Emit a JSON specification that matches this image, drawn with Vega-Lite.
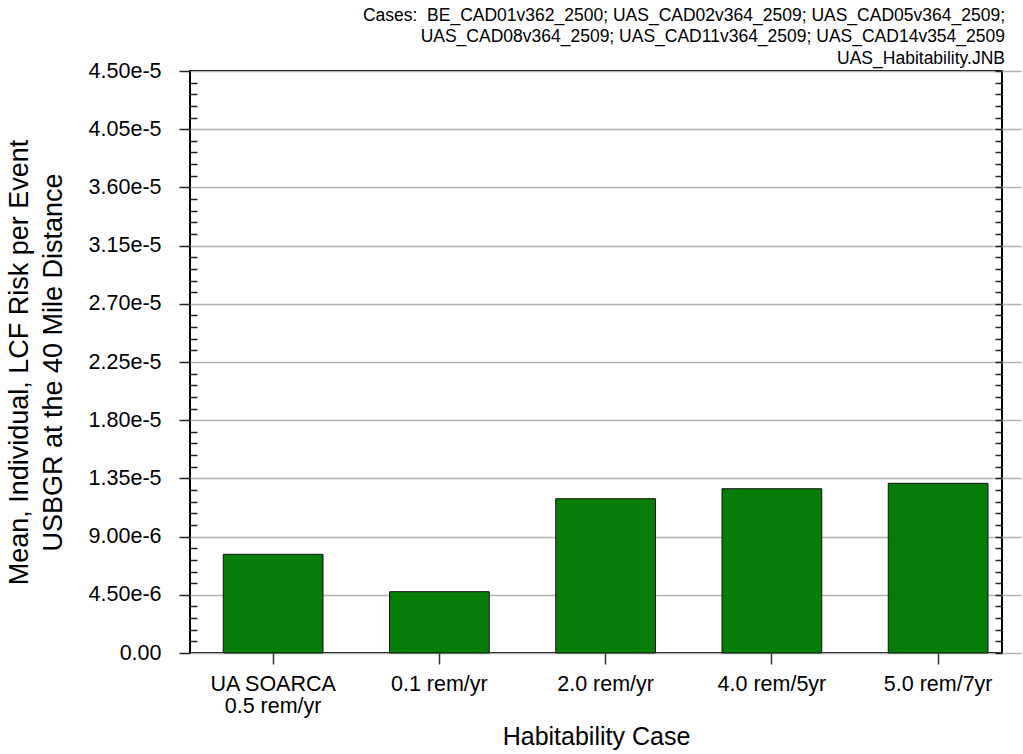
{
  "$schema": "https://vega.github.io/schema/vega-lite/v6.json",
  "autosize": {"type": "none"},
  "padding": {"left": 190, "top": 71, "right": 21, "bottom": 100},
  "width": 812,
  "height": 582,
  "background": "white",
  "config": {
    "view": {"stroke": "black", "strokeWidth": 2},
    "font": "Liberation Sans"
  },
  "title": {
    "text": ["Cases:\u00a0 BE_CAD01v362_2500; UAS_CAD02v364_2509; UAS_CAD05v364_2509;", "UAS_CAD08v364_2509; UAS_CAD11v364_2509; UAS_CAD14v354_2509", "UAS_Habitability.JNB"],
    "anchor": "end",
    "frame": "group",
    "font": "Liberation Sans",
    "fontSize": 17.5,
    "fontWeight": "normal",
    "lineHeight": 21.5,
    "color": "black",
    "offset": -7,
    "dx": 3
  },
  "data": {
    "values": [
      {"case": "UA SOARCA\n0.5 rem/yr", "risk": 7.63e-6},
      {"case": "0.1 rem/yr", "risk": 4.74e-6},
      {"case": "2.0 rem/yr", "risk": 1.193e-5},
      {"case": "4.0 rem/5yr", "risk": 1.270e-5},
      {"case": "5.0 rem/7yr", "risk": 1.312e-5}
    ]
  },
  "encoding": {
    "x": {
      "field": "case",
      "type": "nominal",
      "sort": null,
      "scale": {"range": [0, 831.25], "paddingInner": 0.4, "paddingOuter": 0.2},
      "axis": {
        "title": "Habitability Case",
        "titleFontSize": 25,
        "titleFontWeight": "normal",
        "titleColor": "black",
        "titlePadding": 8,
        "titleX": 406,
        "labelAngle": 0,
        "labelExpr": "split(datum.label, '\\n')",
        "labelFontSize": 21.5,
        "labelLineHeight": 22,
        "labelColor": "black",
        "labelPadding": 9,
        "domain": false,
        "ticks": true,
        "tickSize": 11,
        "tickColor": "#333333",
        "tickWidth": 1.5
      }
    }
  },
  "layer": [
    {
      "mark": {"type": "bar", "color": "#067d06", "stroke": "#111111", "strokeWidth": 1},
      "encoding": {
        "y": {
          "field": "risk",
          "type": "quantitative",
          "scale": {"domain": [0, 4.5e-5], "nice": false, "zero": true},
          "axis": {
            "orient": "left",
            "values": [0, 9e-7, 1.8e-6, 2.7e-6, 3.6e-6, 4.5e-6, 5.4e-6, 6.3e-6, 7.2e-6, 8.1e-6, 9e-6, 9.9e-6, 1.08e-5, 1.17e-5, 1.26e-5, 1.35e-5, 1.44e-5, 1.53e-5, 1.62e-5, 1.71e-5, 1.8e-5, 1.89e-5, 1.98e-5, 2.07e-5, 2.16e-5, 2.25e-5, 2.34e-5, 2.43e-5, 2.52e-5, 2.61e-5, 2.7e-5, 2.79e-5, 2.88e-5, 2.97e-5, 3.06e-5, 3.15e-5, 3.24e-5, 3.33e-5, 3.42e-5, 3.51e-5, 3.6e-5, 3.69e-5, 3.78e-5, 3.87e-5, 3.96e-5, 4.05e-5, 4.14e-5, 4.23e-5, 4.32e-5, 4.41e-5, 4.5e-5],
            "labelExpr": "abs(datum.value / 4.5e-6 - round(datum.value / 4.5e-6)) < 0.01 ? (datum.value < 1e-9 ? '0.00' : format(datum.value, '.2e')) : ''",
            "tickSize": {"condition": {"test": "abs(datum.value / 4.5e-6 - round(datum.value / 4.5e-6)) < 0.01", "value": 11}, "value": -7},
            "gridOpacity": {"condition": {"test": "abs(datum.value / 4.5e-6 - round(datum.value / 4.5e-6)) < 0.01", "value": 1}, "value": 0},
            "grid": true,
            "gridColor": "#b4b4b4",
            "gridWidth": 1.5,
            "domain": false,
            "tickColor": "#222222",
            "tickWidth": 1.5,
            "labelFontSize": 21.5,
            "labelColor": "black",
            "labelPadding": 18,
            "labelFlush": false,
            "labelOverlap": false,
            "title": ["Mean, Individual, LCF Risk per Event", "USBGR at the 40 Mile Distance"],
            "titleFontSize": 27,
            "titleFontWeight": "normal",
            "titleColor": "black",
            "titleLineHeight": 34,
            "titlePadding": 21
          }
        }
      }
    },
    {
      "mark": {"type": "bar", "opacity": 0},
      "encoding": {
        "y": {
          "field": "risk",
          "type": "quantitative",
          "axis": {
            "orient": "right",
            "values": [0, 9e-7, 1.8e-6, 2.7e-6, 3.6e-6, 4.5e-6, 5.4e-6, 6.3e-6, 7.2e-6, 8.1e-6, 9e-6, 9.9e-6, 1.08e-5, 1.17e-5, 1.26e-5, 1.35e-5, 1.44e-5, 1.53e-5, 1.62e-5, 1.71e-5, 1.8e-5, 1.89e-5, 1.98e-5, 2.07e-5, 2.16e-5, 2.25e-5, 2.34e-5, 2.43e-5, 2.52e-5, 2.61e-5, 2.7e-5, 2.79e-5, 2.88e-5, 2.97e-5, 3.06e-5, 3.15e-5, 3.24e-5, 3.33e-5, 3.42e-5, 3.51e-5, 3.6e-5, 3.69e-5, 3.78e-5, 3.87e-5, 3.96e-5, 4.05e-5, 4.14e-5, 4.23e-5, 4.32e-5, 4.41e-5, 4.5e-5],
            "tickSize": -7,
            "tickColor": "#222222",
            "tickWidth": 1.5,
            "labels": false,
            "domain": false,
            "grid": false,
            "title": null
          }
        }
      }
    }
  ],
  "resolve": {"axis": {"y": "independent"}}
}
